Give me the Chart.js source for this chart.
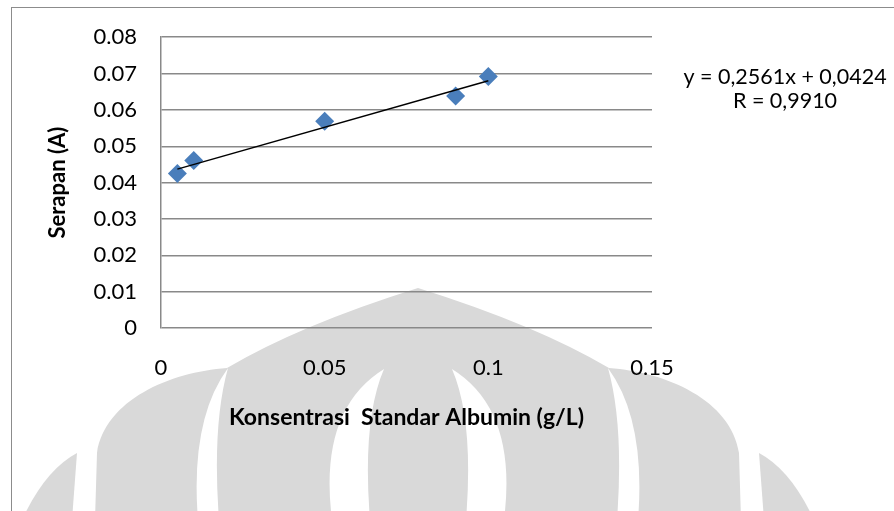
<!DOCTYPE html>
<html>
<head>
<meta charset="utf-8">
<script src="https://cdn.jsdelivr.net/npm/chart.js@4.4.1/dist/chart.umd.min.js"></script>
<style>
  html, body { margin: 0; padding: 0; background: #fff; }
  canvas { display: block; }
</style>
</head>
<body>
<canvas id="albuminChart" width="894" height="511"></canvas>
<script>
// Standard albumin calibration (concentration g/L vs absorbance)
const concentrations = [0.005, 0.01, 0.05, 0.09, 0.1];
const absorbances = [0.0425, 0.0461, 0.0569, 0.0638, 0.0692];

// Linear trend line end points, as drawn
const trendX = [0.005, 0.1];
const trendY = [0.0437, 0.0680];

const xTickLabels = ["0", "0.05", "0.1", "0.15"];
const yTickLabels = ["0", "0.01", "0.02", "0.03", "0.04", "0.05", "0.06", "0.07", "0.08"];
const equationLines = ["y = 0,2561x + 0,0424", "R = 0,9910"];

const gridColor = "#898989";
const fontFamily = "Lato, 'Open Sans', sans-serif";

// Faint logo watermark + outer frame behind the chart
const backgroundPlugin = {
    id: "background",
    beforeDraw(chart) {
        const ctx = chart.ctx;
        ctx.save();
        ctx.fillStyle = "#ffffff";
        ctx.fillRect(0, 0, chart.width, chart.height);

        ctx.fillStyle = "#d9d9d9";
        // main dome
        ctx.beginPath();
        ctx.moveTo(418, 288);
        ctx.quadraticCurveTo(300, 325, 227, 368);
        ctx.bezierCurveTo(170, 372, 105, 400, 97, 453);
        ctx.lineTo(95, 520);
        ctx.lineTo(741, 520);
        ctx.lineTo(739, 453);
        ctx.bezierCurveTo(731, 400, 666, 372, 609, 368);
        ctx.quadraticCurveTo(536, 325, 418, 288);
        ctx.fill();
        // outer small petals
        ctx.beginPath();
        ctx.moveTo(77, 453);
        ctx.lineTo(72, 520);
        ctx.lineTo(22, 520);
        ctx.quadraticCurveTo(45, 470, 77, 453);
        ctx.fill();
        ctx.beginPath();
        ctx.moveTo(759, 453);
        ctx.lineTo(764, 520);
        ctx.lineTo(814, 520);
        ctx.quadraticCurveTo(791, 470, 759, 453);
        ctx.fill();

        // white cuts through the dome
        ctx.fillStyle = "#ffffff";
        const cut = (pts) => {
            ctx.beginPath();
            ctx.moveTo(pts[0], pts[1]);
            ctx.quadraticCurveTo(pts[2], pts[3], pts[4], pts[5]);
            ctx.lineTo(pts[6], pts[7]);
            ctx.quadraticCurveTo(pts[8], pts[9], pts[0], pts[1]);
            ctx.fill();
        };
        cut([228, 368, 190, 420, 198, 520, 219, 520, 212, 425]);
        cut([608, 368, 646, 420, 638, 520, 617, 520, 624, 425]);
        cut([384, 369, 318, 410, 332, 520, 370, 520, 362, 420]);
        cut([452, 369, 518, 410, 504, 520, 466, 520, 474, 420]);

        // outer frame
        ctx.strokeStyle = "#8c8c8c";
        ctx.lineWidth = 1;
        ctx.strokeRect(11.5, 7.5, 900, 600);
        ctx.restore();
    }
};

// Trend line equation text
const equationPlugin = {
    id: "equation",
    afterDraw(chart) {
        const ctx = chart.ctx;
        ctx.save();
        ctx.fillStyle = "#000";
        ctx.font = "21.5px " + fontFamily;
        ctx.textAlign = "center";
        ctx.textBaseline = "middle";
        ctx.fillText(equationLines[0], 785, 77);
        ctx.fillText(equationLines[1], 785, 101);
        ctx.restore();
    }
};

document.addEventListener("DOMContentLoaded", () => {
    const ctx = document.getElementById("albuminChart").getContext("2d");

    new Chart(ctx, {
        type: "scatter",
        data: {
            datasets: [
                {
                    label: "Serapan",
                    data: concentrations.map((x, i) => ({ x: x, y: absorbances[i] })),
                    pointStyle: "rectRot",
                    pointRadius: 9.5,
                    pointHoverRadius: 9.5,
                    backgroundColor: "#4a7ebb",
                    borderColor: "#4a7ebb",
                    borderWidth: 0,
                    order: 1
                },
                {
                    label: "Linear",
                    type: "line",
                    data: trendX.map((x, i) => ({ x: x, y: trendY[i] })),
                    borderColor: "#000",
                    borderWidth: 1.5,
                    pointRadius: 0,
                    fill: false,
                    order: 0
                }
            ]
        },
        options: {
            responsive: false,
            animation: false,
            layout: {
                padding: { left: 0, top: 34, right: 242, bottom: 0 }
            },
            scales: {
                x: {
                    type: "linear",
                    min: 0,
                    max: 0.15,
                    afterFit: (scale) => { scale.height = 511 - 328; },
                    afterBuildTicks: (scale) => {
                        scale.ticks = xTickLabels.map(t => ({ value: parseFloat(t) }));
                    },
                    ticks: {
                        callback: (value, index) => xTickLabels[index],
                        color: "#000",
                        font: { family: fontFamily, size: 22 },
                        padding: 27,
                        maxRotation: 0
                    },
                    grid: { display: false, drawTicks: false },
                    border: { display: false },
                    title: {
                        display: true,
                        text: "Konsentrasi  Standar Albumin (g/L)",
                        color: "#000",
                        font: { family: fontFamily, size: 23, weight: "bold" },
                        padding: { top: 0, bottom: 80 }
                    }
                },
                y: {
                    type: "linear",
                    min: 0,
                    max: 0.08,
                    afterFit: (scale) => { scale.width = 161; },
                    afterBuildTicks: (scale) => {
                        scale.ticks = yTickLabels.map(t => ({ value: parseFloat(t) }));
                    },
                    ticks: {
                        callback: (value, index) => yTickLabels[index],
                        color: "#000",
                        font: { family: fontFamily, size: 22 },
                        padding: 24
                    },
                    grid: {
                        color: gridColor,
                        lineWidth: 1.5,
                        drawTicks: false
                    },
                    border: { display: true, color: gridColor, width: 1.5 },
                    title: {
                        display: true,
                        text: "Serapan (A)",
                        color: "#000",
                        font: { family: fontFamily, size: 22, weight: "bold" },
                        padding: { top: 45, bottom: 0 }
                    }
                }
            },
            plugins: {
                legend: { display: false },
                tooltip: { enabled: false }
            }
        },
        plugins: [backgroundPlugin, equationPlugin]
    });
});
</script>
</body>
</html>
